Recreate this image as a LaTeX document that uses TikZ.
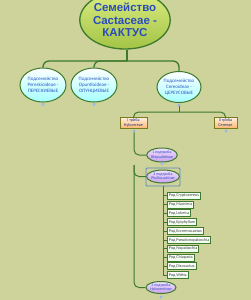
\documentclass[tikz,border=0pt]{standalone}
\usepackage{fontspec}
\setmainfont{Carlito}
\newfontfamily\titlefont{Liberation Sans}
\usetikzlibrary{shapes.geometric}
\definecolor{bgc}{HTML}{CDD39B}
\definecolor{lnk}{HTML}{3E7A2C}
\definecolor{ttl}{HTML}{2B4DBA}
\definecolor{blu}{HTML}{2A58C8}
\definecolor{mrk}{HTML}{A8D4F0}
\definecolor{selb}{HTML}{5A84C4}
\definecolor{maintop}{HTML}{DCEC84}
\definecolor{mainbot}{HTML}{A2C445}
\definecolor{vtop}{HTML}{F0E0FF}
\definecolor{vbot}{HTML}{C9A2EE}
\tikzset{
  mainnode/.style={ellipse,draw=lnk,line width=1.3pt,minimum width=89pt,minimum height=58pt,
    top color=maintop,bottom color=mainbot,text=ttl,
    font=\titlefont\bfseries\fontsize{11.5}{12.5}\selectfont,align=center,inner sep=0pt},
  subfam/.style={ellipse,draw=lnk,line width=1pt,minimum width=46pt,minimum height=34pt,
    top color=white,bottom color=cyan!35!white,text=blu,
    font=\fontsize{5}{5.8}\selectfont,align=center,inner sep=0pt},
  tribebox/.style={rectangle,draw=lnk!70!orange,line width=0.8pt,minimum height=11pt,
    top color=orange!10!white,bottom color=orange!55!white,text=ttl!70!black,
    font=\fontsize{4.2}{5}\selectfont,align=center,inner sep=1pt},
  subtribe/.style={ellipse,draw=lnk,line width=1pt,minimum width=29pt,minimum height=13pt,
    top color=vtop,bottom color=vbot,text=ttl,
    font=\fontsize{4}{4.6}\selectfont,align=center,inner sep=0pt},
  genus/.style={rectangle,draw=lnk,line width=0.8pt,minimum height=7pt,anchor=west,
    top color=white,bottom color=green!8!white,text=black!75,
    font=\fontsize{4.2}{4.4}\selectfont,inner xsep=1.5pt,inner ysep=0pt},
  marker/.style={circle,fill=mrk,draw=mrk!70!blue,line width=0.2pt,inner sep=0pt,minimum size=2.6pt},
  link/.style={draw=lnk,line width=1.3pt,rounded corners=6pt},
  thinlink/.style={draw=lnk,line width=1pt,rounded corners=5pt},
}
\begin{document}
\begin{tikzpicture}[x=1pt,y=-1pt]
\fill[bgc] (0,0) rectangle (251,300);
\useasboundingbox (0,0) rectangle (251,300);

% main
\node[mainnode] (main) at (125,20) {Семейство\\Cactaceae -\\КАКТУС};

% subfamilies
\node[subfam] (sf1) at (43,85) {Подсемейство\\Pereskioideae -\\ПЕРЕСКИЕВЫЕ};
\node[subfam] (sf2) at (94,85) {Подсемейство\\Opuntioideae -\\ОПУНЦИЕВЫЕ};
\node[subfam,minimum width=44pt,minimum height=31pt] (sf3) at (179,87) {Подсемейство\\Cereoideae -\\ЦЕРЕУСОВЫЕ};

\coordinate (j0) at (127,61);
\draw[link] (127,49.5) -- (j0);
\draw[link] (j0) -| (sf1.north);
\draw[link] (j0) -| (sf2.north);
\draw[link] (j0) -| (sf3.north);

\node[marker] (m1) at (43,104.5) {};
\node[marker] (m2) at (94,104.5) {};
\node[marker] (m3) at (179,105) {};

% tribes
\node[tribebox,minimum width=27pt] (t1) at (133.5,122.5) {I триба\\Hylocereae};
\node[tribebox,minimum width=23pt] (t2) at (225.5,122.5) {II триба\\Cereeae};
\coordinate (j1) at (179,112);
\draw[thinlink] (m3) -- (j1);
\draw[thinlink] (j1) -| (t1.north);
\draw[thinlink] (j1) -| (t2.north);
\node[marker] (m4) at (134,131) {};
\node[marker] (m5) at (226,131) {};

% subtribes
\node[subtribe,minimum width=28pt,minimum height=14pt] (st1) at (162,155) {1 подтриба\\Rhipsalidinae};
\node[subtribe,minimum width=30pt] (st2) at (163,176.5) {2 подтриба\\Phyllocactinae};
\node[subtribe,minimum width=28pt,minimum height=12pt] (st3) at (161,287.5) {3 подтриба\\Hylocereinae};
\node[draw=selb,line width=0.8pt,rounded corners=1pt,minimum width=34pt,minimum height=18pt,inner sep=0pt] (sel) at (163,177) {};
\node[marker] (m6) at (162,163.5) {};
\node[marker] (m7) at (161,297) {};

\coordinate (b1) at (134,165);
\draw[thinlink] (m4) -- (134,145) |- (st1.west);
\draw[thinlink] (b1) |- (st2.west);
\draw[thinlink] (b1) -- (134,287.5) -- (st3.west);

% genera
\coordinate (g0) at (163,186);
\foreach \i/\y/\t in {1/195.7/Cryptocereus,2/204.7/Marniera,3/213.3/Lobeira,4/222.3/Epiphyllum,
  5/231/Eccremocactus,6/240/Pseudonopalxochia,7/248.7/Nopalxochia,8/257.7/Chiapasia,
  9/266.3/Disocactus,10/275/Wittia}{
  \node[genus] (g\i) at (167,\y) {Род \t};
  \draw[draw=lnk,line width=0.8pt] (163,\y) -- (g\i.west);
}
\draw[draw=lnk,line width=1pt] (g0) -- (163,275);
\end{tikzpicture}
\end{document}
